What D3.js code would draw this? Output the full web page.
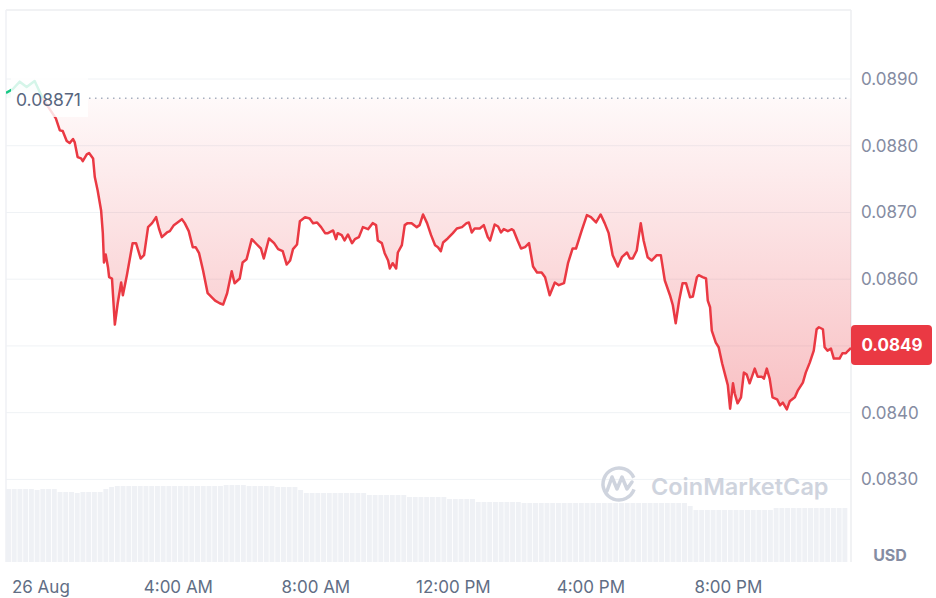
<!DOCTYPE html>
<html>
<head>
<meta charset="utf-8">
<script src="https://cdn.jsdelivr.net/npm/d3@7"></script>
<style>
html,body{margin:0;padding:0;background:#fff;}
svg{display:block;font-family:Inter,"Noto Sans",sans-serif;}
</style>
</head>
<body>
<svg id="chart" width="936" height="598"></svg>
<script>
// ---- data (minutes from 26 Aug 00:00, price in USD) ----
const minutes = [-60,-48,-36,-24,-10,3,13,27,34,39,46,51,57,60,65,71,74,81,85,92,95,100,106,109,111,114,118,120,125,130,135,141,144,151,161,167,175,181,188,195,202,207,212,221,226,233,247,252,259,266,271,277,284,292,305,313,319,326,334,339,348,353,360,369,378,385,390,399,408,415,423,430,436,441,448,453,462,470,476,483,490,497,502,511,516,519,526,531,537,544,549,556,563,572,580,586,589,596,601,607,610,615,621,624,631,636,641,648,657,662,668,675,682,689,694,699,703,711,720,727,736,744,748,753,758,767,774,781,785,793,799,804,809,816,823,826,833,839,846,853,860,867,875,881,889,898,905,914,921,929,935,945,954,961,970,978,985,992,999,1008,1015,1024,1029,1034,1041,1048,1053,1060,1067,1076,1083,1090,1099,1104,1109,1115,1121,1127,1134,1139,1146,1149,1156,1162,1165,1169,1172,1179,1184,1190,1197,1200,1204,1209,1212,1217,1223,1228,1233,1238,1247,1252,1259,1263,1268,1273,1278,1286,1291,1296,1303,1308,1317,1322,1331,1336,1343,1350,1355,1359,1366,1369,1374,1380,1385,1395,1400,1406,1409,1415];
const prices = [0.08879,0.08885,0.08896,0.08888,0.08897,0.08873,0.08859,0.08841,0.08823,0.08822,0.08807,0.08804,0.08810,0.08805,0.08783,0.08781,0.08777,0.08787,0.08789,0.08781,0.08753,0.08733,0.08703,0.08669,0.08625,0.08637,0.08618,0.08603,0.08601,0.08532,0.08564,0.08595,0.08576,0.08606,0.08654,0.08654,0.08631,0.08636,0.08678,0.08684,0.08693,0.08676,0.08663,0.08670,0.08672,0.08681,0.08690,0.08684,0.08672,0.08648,0.08648,0.08639,0.08613,0.08579,0.08568,0.08564,0.08562,0.08579,0.08612,0.08594,0.08601,0.08625,0.08630,0.08660,0.08652,0.08646,0.08631,0.08661,0.08654,0.08645,0.08642,0.08622,0.08628,0.08645,0.08652,0.08687,0.08693,0.08691,0.08684,0.08685,0.08678,0.08669,0.08669,0.08673,0.08660,0.08669,0.08666,0.08658,0.08667,0.08654,0.08660,0.08663,0.08678,0.08675,0.08684,0.08681,0.08658,0.08654,0.08639,0.08628,0.08616,0.08624,0.08616,0.08640,0.08651,0.08681,0.08684,0.08684,0.08678,0.08681,0.08697,0.08684,0.08666,0.08651,0.08648,0.08642,0.08655,0.08661,0.08669,0.08676,0.08678,0.08684,0.08685,0.08670,0.08676,0.08676,0.08681,0.08663,0.08658,0.08682,0.08679,0.08670,0.08675,0.08672,0.08675,0.08673,0.08658,0.08646,0.08648,0.08654,0.08619,0.08610,0.08610,0.08603,0.08576,0.08595,0.08591,0.08594,0.08624,0.08646,0.08646,0.08673,0.08696,0.08693,0.08685,0.08697,0.08684,0.08669,0.08636,0.08619,0.08633,0.08640,0.08631,0.08631,0.08643,0.08684,0.08658,0.08633,0.08628,0.08636,0.08636,0.08598,0.08576,0.08561,0.08534,0.08568,0.08594,0.08594,0.08573,0.08574,0.08603,0.08606,0.08603,0.08601,0.08568,0.08558,0.08523,0.08505,0.08498,0.08474,0.08451,0.08441,0.08406,0.08444,0.08429,0.08414,0.08423,0.08460,0.08457,0.08444,0.08466,0.08454,0.08454,0.08451,0.08466,0.08451,0.08423,0.08420,0.08411,0.08415,0.08405,0.08417,0.08423,0.08433,0.08445,0.08460,0.08475,0.08493,0.08525,0.08528,0.08525,0.08498,0.08493,0.08496,0.08481,0.08481,0.08489,0.08489,0.08492,0.08497];
const openPrice = 0.08871;
const lastPriceLabel = "0.0849";
// volume, 10-minute buckets starting at -60 min (millions USD, relative)
const volumeStart = -60, volumeStep = 10;
const volumes = [7.3,7.3,7.3,7.3,7.3,7.2,7.3,7.3,7.3,
 7.0,7.0,7.0,6.9,7.0,7.0,7.0,7.0,
 7.3,7.5,
 7.6,7.6,7.6,7.6,7.6,7.6,7.6,7.6,7.6,7.6,7.6,7.6,7.6,7.6,7.6,7.6,7.6,7.6,7.6,7.7,7.7,7.7,7.7,7.6,7.6,7.6,7.6,7.6,7.5,7.5,7.5,7.5,
 7.2,
 6.9,6.9,6.9,6.9,6.9,6.9,6.9,6.9,6.9,6.9,6.9,
 6.7,6.7,6.7,6.7,6.7,6.7,6.7,
 6.5,6.5,6.5,6.5,6.5,6.5,6.5,
 6.3,6.3,6.3,6.3,6.3,
 6.0,6.0,6.0,6.0,6.0,6.0,6.0,6.0,
 5.9,5.9,5.9,5.9,5.9,5.9,5.9,5.9,5.9,5.9,5.9,5.9,5.9,5.9,5.9,5.9,5.9,5.9,5.9,5.9,5.9,5.9,5.9,5.9,5.9,5.9,5.9,5.9,5.9,
 5.6,
 5.2,5.2,5.2,5.2,5.2,5.2,5.2,5.2,5.2,5.2,5.2,5.2,5.2,5.2,
 5.4,5.4,5.4,5.4,5.4,5.4,5.4,5.4,5.4,5.4,5.4,5.4,5.4];
const yTicks = [0.0830,0.0840,0.0850,0.0860,0.0870,0.0880,0.0890];
const yTickLabels = ["0.0830","0.0840","","0.0860","0.0870","0.0880","0.0890"];
const xTickMinutes = [0,240,480,720,960,1200];
const xTickLabels = ["26 Aug","4:00 AM","8:00 AM","12:00 PM","4:00 PM","8:00 PM"];

// ---- layout ----
const L = 6, R = 851, T = 10, B = 562;
const base = new Date(2024,7,26,0,0,0);
const toDate = m => new Date(base.getTime() + m*60000);

const svg = d3.select("#chart");
const x = d3.scaleTime().domain([toDate(-60), toDate(1415)]).range([L, R]);
const y = d3.scaleLinear().domain([0.0830, 0.0890]).range([479.4, 79]);
const yv = d3.scaleLinear().domain([0, 8]).range([B, B - 80]);

const data = minutes.map((m,i)=>({t:toDate(m), p:prices[i]}));
const y0 = y(openPrice);

const defs = svg.append("defs");
const gr = defs.append("linearGradient").attr("id","gRed").attr("gradientUnits","userSpaceOnUse")
  .attr("x1",0).attr("x2",0).attr("y1",y0).attr("y2",y(0.0840));
gr.append("stop").attr("offset",0).attr("stop-color","#ea3943").attr("stop-opacity",0.03);
gr.append("stop").attr("offset",1).attr("stop-color","#ea3943").attr("stop-opacity",0.32);
const gg = defs.append("linearGradient").attr("id","gGreen").attr("gradientUnits","userSpaceOnUse")
  .attr("x1",0).attr("x2",0).attr("y1",y(0.0890)).attr("y2",y0);
gg.append("stop").attr("offset",0).attr("stop-color","#16c784").attr("stop-opacity",0.15);
gg.append("stop").attr("offset",1).attr("stop-color","#16c784").attr("stop-opacity",0.03);
defs.append("clipPath").attr("id","below").append("rect").attr("x",L).attr("y",y0).attr("width",R-L).attr("height",B-y0);
defs.append("clipPath").attr("id","above").append("rect").attr("x",L).attr("y",T).attr("width",R-L).attr("height",y0-T);

// gridlines
svg.append("g").selectAll("line").data(yTicks).join("line")
  .attr("x1",L).attr("x2",R).attr("y1",d=>y(d)).attr("y2",d=>y(d))
  .attr("stroke","#eff2f5").attr("stroke-width",1);

// frame
svg.append("line").attr("x1",L).attr("x2",R).attr("y1",T).attr("y2",T).attr("stroke","#eceef1").attr("stroke-width",1.5);
svg.append("line").attr("x1",L).attr("x2",L).attr("y1",T).attr("y2",B).attr("stroke","#eff1f4").attr("stroke-width",1.5);
svg.append("line").attr("x1",R).attr("x2",R).attr("y1",T).attr("y2",B).attr("stroke","#eceef1").attr("stroke-width",1.5);

// volume bars
const bw = x(toDate(volumeStep)) - x(toDate(0));
svg.append("g").selectAll("rect").data(volumes).join("rect")
  .attr("x",(d,i)=>x(toDate(volumeStart + i*volumeStep)))
  .attr("width",Math.max(1,bw-0.8))
  .attr("y",d=>yv(d)).attr("height",d=>B-yv(d))
  .attr("fill","#eff1f5");

// watermark
const wm = svg.append("g");
wm.append("circle").attr("cx",619).attr("cy",484).attr("r",16).attr("fill","none").attr("stroke","#cfd4de").attr("stroke-width",3.5)
  .attr("stroke-dasharray","88 13").attr("transform","rotate(20 619 484)");
wm.append("path").attr("d","M607,491 L612,477 L617,489 L622,477 L627,489 L632,482")
  .attr("fill","none").attr("stroke","#cfd4de").attr("stroke-width",3.5).attr("stroke-linejoin","round").attr("stroke-linecap","round");
wm.append("text").attr("x",651).attr("y",486).attr("dominant-baseline","central")
  .attr("font-size",23.5).attr("font-weight",600).attr("fill","#cfd4de").text("CoinMarketCap");

// areas
const area = d3.area().x(d=>x(d.t)).y0(y0).y1(d=>y(d.p));
const line = d3.line().x(d=>x(d.t)).y(d=>y(d.p));
svg.append("path").datum(data).attr("d",area).attr("fill","url(#gRed)").attr("clip-path","url(#below)");
svg.append("path").datum(data).attr("d",area).attr("fill","url(#gGreen)").attr("clip-path","url(#above)");
svg.append("path").datum(data).attr("d",line).attr("fill","none").attr("stroke","#ea3943").attr("stroke-width",2.5)
  .attr("stroke-linejoin","round").attr("clip-path","url(#below)");
svg.append("path").datum(data).attr("d",line).attr("fill","none").attr("stroke","#16c784").attr("stroke-width",2.5)
  .attr("stroke-linejoin","round").attr("clip-path","url(#above)");

// open price dotted line + label
svg.append("line").attr("x1",89).attr("x2",R).attr("y1",y0).attr("y2",y0)
  .attr("stroke","#a7afbf").attr("stroke-width",1.5).attr("stroke-dasharray","1.5 4.5");
svg.append("rect").attr("x",11).attr("y",78).attr("width",77).attr("height",39).attr("fill","#fff").attr("opacity",0.82);
svg.append("text").attr("x",16).attr("y",y0+1).attr("dominant-baseline","central")
  .attr("font-size",17.5).attr("fill","#58667e").text(openPrice.toFixed(5));

// y axis labels
const ya = svg.append("g").attr("transform",`translate(${R},0)`)
  .call(d3.axisRight(y).tickValues(yTicks).tickSize(0).tickPadding(10).tickFormat((d,i)=>yTickLabels[i]));
ya.select(".domain").remove();
ya.selectAll("text").attr("font-size",17).attr("fill","#858ca2").attr("font-family","Inter,'Noto Sans',sans-serif");

// current price tag
svg.append("rect").attr("x",R).attr("y",y(0.0850)-21).attr("width",81).attr("height",40).attr("rx",4).attr("fill","#ea3943");
svg.append("text").attr("x",R+41).attr("y",y(0.0850)-1).attr("text-anchor","middle").attr("dominant-baseline","central")
  .attr("font-size",17).attr("font-weight",700).attr("fill","#fff").text(lastPriceLabel);

// USD
svg.append("text").attr("x",890).attr("y",555).attr("text-anchor","middle").attr("dominant-baseline","central")
  .attr("font-size",16).attr("font-weight",700).attr("fill","#858ca2").text("USD");

// x axis labels
const xa = svg.append("g").attr("transform",`translate(0,${B})`)
  .call(d3.axisBottom(x).tickValues(xTickMinutes.map(toDate)).tickSize(0).tickPadding(0).tickFormat((d,i)=>xTickLabels[i]));
xa.select(".domain").remove();
xa.selectAll("text").attr("font-size",17).attr("fill","#616e85").attr("dy",null).attr("y",31)
  .attr("font-family","Inter,'Noto Sans',sans-serif");
</script>
</body>
</html>
